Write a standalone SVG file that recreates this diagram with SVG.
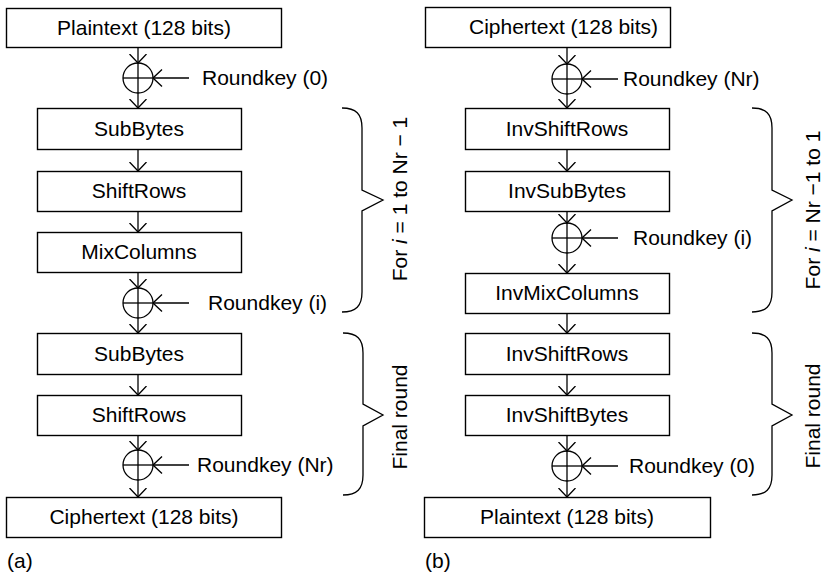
<svg xmlns="http://www.w3.org/2000/svg" width="824" height="577" viewBox="0 0 824 577">
<style>
text{font-family:"Liberation Sans",Arial,Helvetica,sans-serif;font-size:21px;fill:#000}
.box{fill:#fff;stroke:#000;stroke-width:1.4}
.c{text-anchor:middle}
.ln{fill:none;stroke:#000;stroke-width:1.3}
.arr{fill:none;stroke:#000;stroke-width:1.3;marker-end:url(#ah)}
.xor{fill:none;stroke:#000;stroke-width:1.3}
</style>
<defs>
<marker id="ah" viewBox="0 0 10 20" refX="9.5" refY="10" markerWidth="10" markerHeight="20" markerUnits="userSpaceOnUse" orient="auto">
<path d="M0.5,1.5 L9.5,10 L0.5,18.5" fill="none" stroke="#000" stroke-width="1.3"/>
</marker>
</defs>

<!-- Left (a) -->
<g id="a_plain"><rect class="box" x="6.5" y="8.5" width="275" height="39"/><text class="c" x="144" y="35">Plaintext (128 bits)</text></g>
<g id="a_sub1"><rect class="box" x="37.5" y="108.5" width="204" height="41"/><text class="c" x="139" y="136">SubBytes</text></g>
<g id="a_shift1"><rect class="box" x="37.5" y="171.5" width="204" height="40"/><text class="c" x="139" y="198">ShiftRows</text></g>
<g id="a_mix"><rect class="box" x="37.5" y="232.5" width="204" height="40"/><text class="c" x="139" y="259">MixColumns</text></g>
<g id="a_sub2"><rect class="box" x="37.5" y="333.5" width="204" height="41"/><text class="c" x="139" y="361">SubBytes</text></g>
<g id="a_shift2"><rect class="box" x="37.5" y="395.5" width="204" height="40"/><text class="c" x="139" y="422">ShiftRows</text></g>
<g id="a_cipher"><rect class="box" x="6.5" y="497.5" width="275" height="40"/><text class="c" x="144" y="524">Ciphertext (128 bits)</text></g>

<g id="a_xor0"><circle class="xor" cx="138" cy="78" r="15"/><line class="ln" x1="123" y1="78" x2="153" y2="78"/><text x="202" y="85">Roundkey (0)</text></g>
<g id="a_xori"><circle class="xor" cx="138" cy="303" r="15"/><line class="ln" x1="123" y1="303" x2="153" y2="303"/><text x="208" y="310">Roundkey (i)</text></g>
<g id="a_xornr"><circle class="xor" cx="138" cy="465" r="15"/><line class="ln" x1="123" y1="465" x2="153" y2="465"/><text x="197" y="472">Roundkey (Nr)</text></g>

<g id="a_brace1"><path class="ln" d="M342,108 C356,108 362,114 362,128 L362,190 L383,200 L362,211 L362,292 C362,306 356,312 342,312"/><text class="c" transform="translate(407,199) rotate(-90)">For <tspan font-style="italic">i</tspan> = 1 to Nr − 1</text></g>
<g id="a_brace2"><path class="ln" d="M343,333 C357,333 363,339 363,353 L363,404 L383,415 L363,426 L363,475 C363,489 357,495 343,495"/><text class="c" transform="translate(407,417) rotate(-90)">Final round</text></g>
<text x="7" y="568">(a)</text>

<!-- Right (b) -->
<g id="b_cipher"><rect class="box" x="425.5" y="7.5" width="245" height="40"/><text x="469" y="34">Ciphertext (128 bits)</text></g>
<g id="b_invshift1"><rect class="box" x="465.5" y="108.5" width="204" height="41"/><text class="c" x="567" y="136">InvShiftRows</text></g>
<g id="b_invsub"><rect class="box" x="465.5" y="171.5" width="204" height="40"/><text class="c" x="567" y="198">InvSubBytes</text></g>
<g id="b_invmix"><rect class="box" x="465.5" y="273.5" width="204" height="40"/><text class="c" x="567" y="300">InvMixColumns</text></g>
<g id="b_invshift2"><rect class="box" x="465.5" y="333.5" width="204" height="41"/><text class="c" x="567" y="361">InvShiftRows</text></g>
<g id="b_invshiftbytes"><rect class="box" x="465.5" y="395.5" width="204" height="40"/><text class="c" x="567" y="422">InvShiftBytes</text></g>
<g id="b_plain"><rect class="box" x="424.5" y="497.5" width="286" height="40"/><text class="c" x="567" y="524">Plaintext (128 bits)</text></g>

<g id="b_xornr"><circle class="xor" cx="567" cy="79" r="15"/><line class="ln" x1="552" y1="79" x2="582" y2="79"/><text x="623" y="86">Roundkey (Nr)</text></g>
<g id="b_xori"><circle class="xor" cx="567" cy="238" r="15"/><line class="ln" x1="552" y1="238" x2="582" y2="238"/><text x="633" y="245">Roundkey (i)</text></g>
<g id="b_xor0"><circle class="xor" cx="567" cy="466" r="15"/><line class="ln" x1="552" y1="466" x2="582" y2="466"/><text x="629" y="473">Roundkey (0)</text></g>

<g id="b_brace1"><path class="ln" d="M752,108 C766,108 772,114 772,128 L772,190 L792,200 L772,211 L772,292 C772,306 766,312 752,312"/><text class="c" transform="translate(820,210) rotate(-90)">For <tspan font-style="italic">i</tspan> = Nr −1 to 1</text></g>
<g id="b_brace2"><path class="ln" d="M752,333 C766,333 772,339 772,353 L772,404 L792,415 L772,426 L772,475 C772,489 766,495 752,495"/><text class="c" transform="translate(820,416) rotate(-90)">Final round</text></g>
<text x="425" y="568">(b)</text>

<g id="connectors">
<line class="arr" x1="138" y1="48" x2="138" y2="63"/>
<line class="arr" x1="138" y1="63" x2="138" y2="108"/>
<line class="arr" x1="189" y1="78" x2="153" y2="78"/>
<line class="arr" x1="138" y1="150" x2="138" y2="171"/>
<line class="arr" x1="138" y1="212" x2="138" y2="232"/>
<line class="arr" x1="138" y1="273" x2="138" y2="288"/>
<line class="arr" x1="138" y1="288" x2="138" y2="333"/>
<line class="arr" x1="189" y1="303" x2="153" y2="303"/>
<line class="arr" x1="138" y1="375" x2="138" y2="395"/>
<line class="arr" x1="138" y1="436" x2="138" y2="450"/>
<line class="arr" x1="138" y1="450" x2="138" y2="497"/>
<line class="arr" x1="189" y1="465" x2="153" y2="465"/>

<line class="arr" x1="567" y1="48" x2="567" y2="64"/>
<line class="arr" x1="567" y1="64" x2="567" y2="108"/>
<line class="arr" x1="618" y1="79" x2="582" y2="79"/>
<line class="arr" x1="567" y1="150" x2="567" y2="171"/>
<line class="arr" x1="567" y1="212" x2="567" y2="223"/>
<line class="arr" x1="567" y1="223" x2="567" y2="273"/>
<line class="arr" x1="618" y1="238" x2="582" y2="238"/>
<line class="arr" x1="567" y1="314" x2="567" y2="333"/>
<line class="arr" x1="567" y1="375" x2="567" y2="395"/>
<line class="arr" x1="567" y1="436" x2="567" y2="451"/>
<line class="arr" x1="567" y1="451" x2="567" y2="497"/>
<line class="arr" x1="618" y1="466" x2="582" y2="466"/>
</g>
</svg>
